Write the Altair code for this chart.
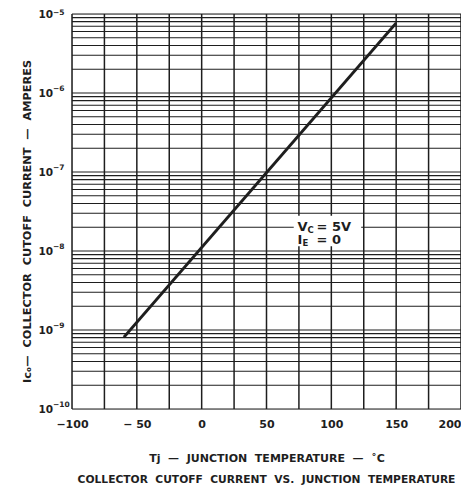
import altair as alt
import pandas as pd

# Data
temp_c = [-60, 150]
ico_amps = [8.1e-10, 7.7e-6]

x_grid = list(range(-100, 201, 25))
x_labels = [-100, -50, 0, 50, 100, 150, 200]
y_grid = [m * 10.0 ** e for e in range(-10, -5) for m in range(1, 10)] + [1e-5]
y_decades = [1e-10, 1e-9, 1e-8, 1e-7, 1e-6, 1e-5]
y_exponents = ["\u221210", "\u22129", "\u22128", "\u22127", "\u22126", "\u22125"]

note_row = [1, 2]
note_x = [74, 74]
note_y = [2.0e-8, 1.38e-8]
note_main = ["V", "I"]
note_sub = ["C", "E"]
note_rest = ["= 5V", "= 0"]

S = "\u00a0 "  # widened word gap (SVG collapses plain repeated spaces)

line_df = pd.DataFrame({"t": temp_c, "i": ico_amps})
xg_df = pd.DataFrame({"t": x_grid})
yg_df = pd.DataFrame({"i": y_grid})
ylab_df = pd.DataFrame({"i": y_decades, "e": y_exponents})
note_df = pd.DataFrame({"row": note_row, "t": note_x, "i": note_y,
                        "m": note_main, "s": note_sub, "r": note_rest})
box_df = pd.DataFrame({"t": [71], "t2": [123], "i": [2.8e-8], "i2": [1.15e-8]})

FONT = "DejaVu Sans"
INK = "#1e1e1e"

xlab = ("datum.value == -50 ? '\u2212 50' : "
        "datum.value < 0 ? '\u2212' + abs(datum.value) : '' + datum.value")

xscale = alt.Scale(domain=[-100, 200], nice=False, zero=False)
yscale = alt.Scale(type="log", domain=[1e-10, 1e-5], nice=False)

x_title = S.join(["Tj", "\u2014", "JUNCTION", "TEMPERATURE", "\u2014", "\u02daC"])
y_title = "I\u1d04\u2092\u2014" + S + S.join(["COLLECTOR", "CUTOFF", "CURRENT", "\u2014", "AMPERES"])
caption = S.join(["COLLECTOR", "CUTOFF", "CURRENT", "VS.", "JUNCTION", "TEMPERATURE"])

xenc = alt.X("t:Q", scale=xscale,
             axis=alt.Axis(values=x_labels, labelExpr=xlab, grid=False,
                           ticks=False, domain=False, labelPadding=9,
                           labelFont=FONT, labelFontSize=11, labelFontWeight="bold",
                           labelColor=INK, labelFlush=False, labelOverlap=False,
                           labelAlign=alt.expr("datum.value == 200 ? 'right' : 'center'"),
                           title=x_title,
                           titleFont=FONT, titleFontSize=11, titleFontWeight="bold",
                           titleColor=INK, titlePadding=23))
yenc = alt.Y("i:Q", scale=yscale,
             axis=alt.Axis(grid=False, ticks=False, domain=False, labels=False,
                           title=y_title,
                           titleFont=FONT, titleFontSize=11.3, titleFontWeight="bold",
                           titleColor=INK, titleX=-40, titleY=207))

xgrid = alt.Chart(xg_df).mark_rule(color=INK, strokeWidth=1.5).encode(
    x=alt.X("t:Q", scale=xscale))
ygrid = alt.Chart(yg_df).mark_rule(color=INK, strokeWidth=1.1).encode(
    y=alt.Y("i:Q", scale=yscale))

line = alt.Chart(line_df).mark_line(color=INK, strokeWidth=2.8).encode(x=xenc, y=yenc)

box = alt.Chart(box_df).mark_rect(color="white").encode(
    x=alt.X("t:Q", scale=xscale), x2="t2:Q",
    y=alt.Y("i:Q", scale=yscale), y2="i2:Q")

nbase = alt.Chart(note_df).encode(x=alt.X("t:Q", scale=xscale), y=alt.Y("i:Q", scale=yscale))
n_main = nbase.mark_text(font=FONT, fontSize=13, fontWeight="bold", color=INK,
                         align="left").encode(text="m:N")
n_sub1 = nbase.transform_filter("datum.row == 1").mark_text(
    font=FONT, fontSize=8.5, fontWeight="bold", color=INK, align="left", dx=10, dy=3
).encode(text="s:N")
n_sub2 = nbase.transform_filter("datum.row == 2").mark_text(
    font=FONT, fontSize=8.5, fontWeight="bold", color=INK, align="left", dx=5, dy=3
).encode(text="s:N")
n_rest = nbase.mark_text(font=FONT, fontSize=13, fontWeight="bold", color=INK,
                         align="left", dx=19).encode(text="r:N")

ybase = alt.Chart(ylab_df).encode(y=alt.Y("i:Q", scale=yscale))
ylab10 = ybase.mark_text(font=FONT, fontSize=10.5, fontWeight="bold", color=INK,
                         align="right", baseline="middle", dy=1).encode(
    x=alt.value(-19), text=alt.value("10"))
ybase_low = ybase.transform_filter("datum.i < 5e-6")
ybase_top = ybase.transform_filter("datum.i > 5e-6")
ylabexp = ybase_low.mark_text(font=FONT, fontSize=7.5, fontWeight="bold", color=INK,
                              align="left", baseline="middle", dy=-4).encode(
    x=alt.value(-19), text="e:N")
ylabexp_top = ybase_top.mark_text(font=FONT, fontSize=7.5, fontWeight="bold", color=INK,
                                  align="left", baseline="middle", dy=-1).encode(
    x=alt.value(-19), text="e:N")

chart = alt.layer(xgrid, ygrid, line, box, n_main, n_sub1, n_sub2, n_rest,
                  ylab10, ylabexp, ylabexp_top).properties(
    width=389, height=395,
    autosize=alt.AutoSizeParams(type="none"),
    padding={"left": 64, "top": 6, "right": 0, "bottom": 83},
    title=alt.TitleParams(caption,
                          orient="bottom", anchor="middle", font=FONT, fontSize=10.7,
                          fontWeight="bold", color=INK, offset=12),
).configure_view(stroke=INK, strokeWidth=1.6).configure(background="white")

chart.save("out.html", embed_options={"renderer": "svg", "actions": False})
